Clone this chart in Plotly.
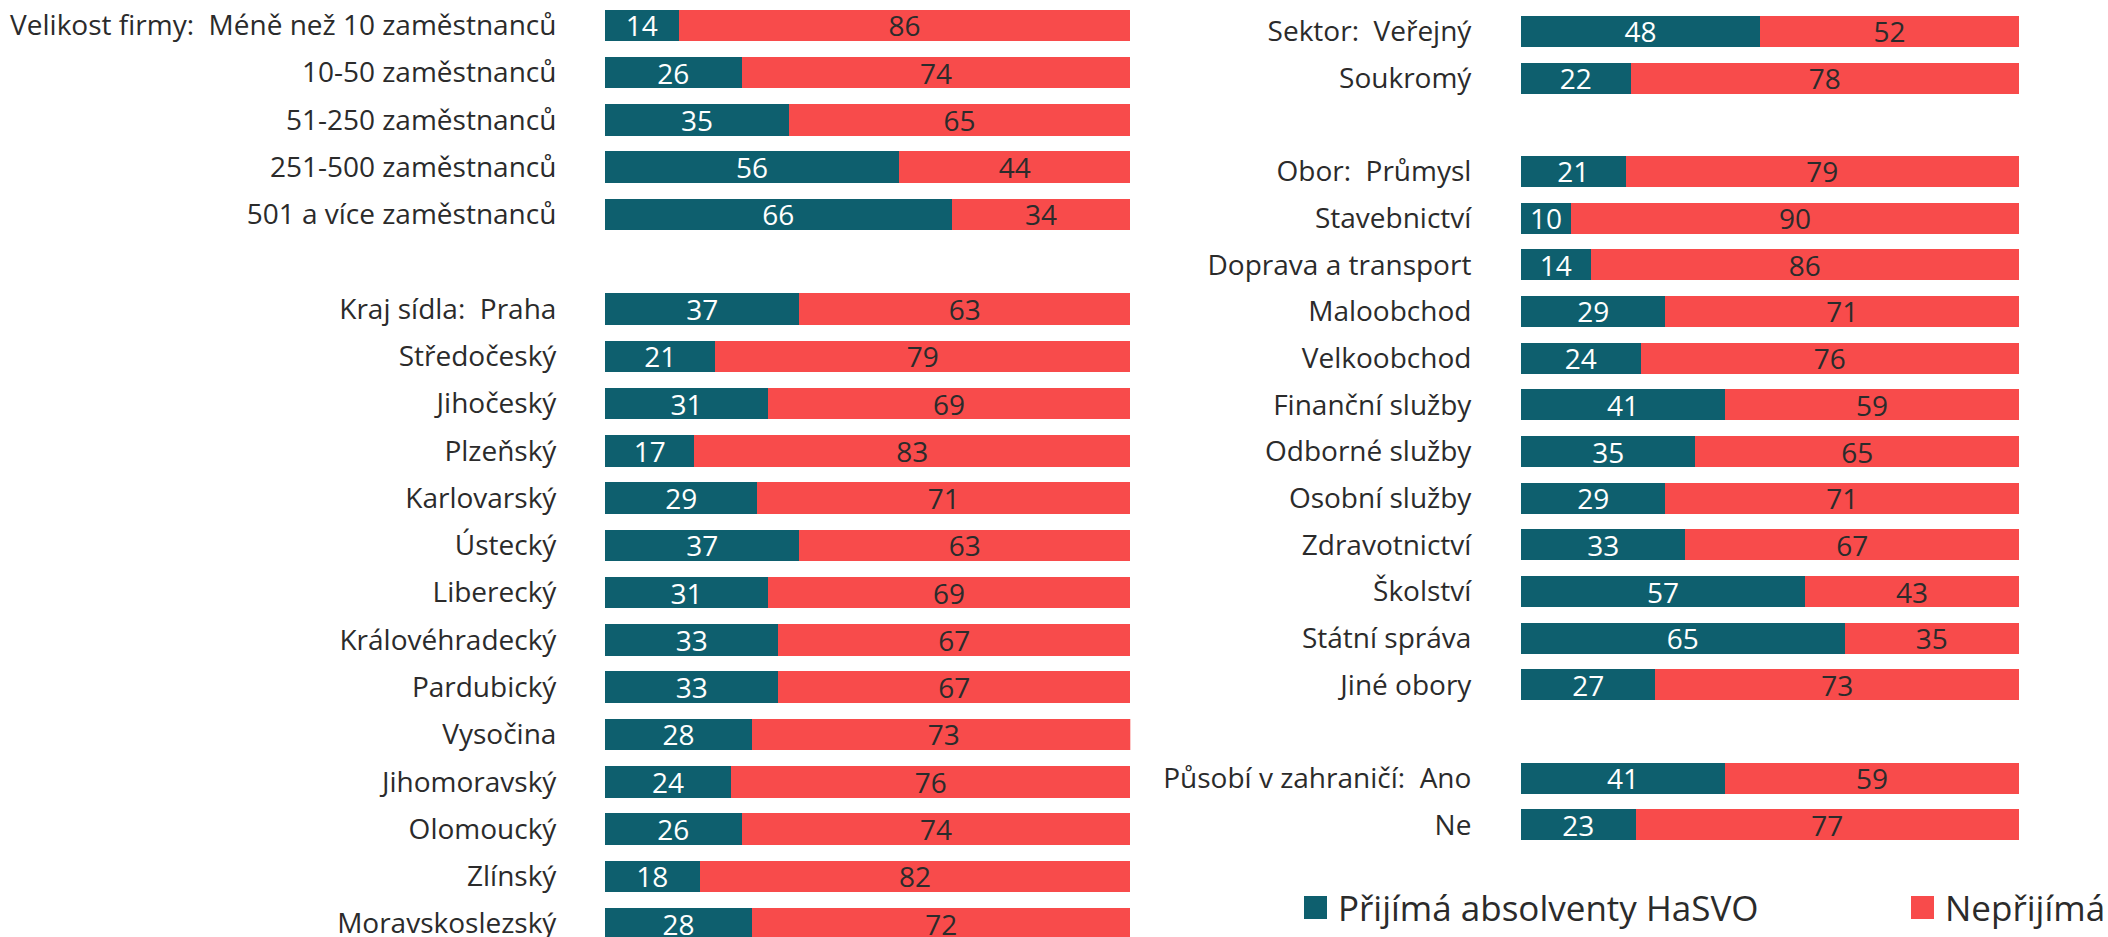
import plotly.graph_objects as go

# ---------------- data ----------------
size_labels = ["Velikost firmy:\u00a0 Méně než 10 zaměstnanců", "10-50 zaměstnanců", "51-250 zaměstnanců",
               "251-500 zaměstnanců", "501 a více zaměstnanců"]
size_yes = [14, 26, 35, 56, 66]
size_no = [86, 74, 65, 44, 34]

region_labels = ["Kraj sídla:\u00a0 Praha", "Středočeský", "Jihočeský", "Plzeňský", "Karlovarský", "Ústecký",
                 "Liberecký", "Královéhradecký", "Pardubický", "Vysočina", "Jihomoravský", "Olomoucký",
                 "Zlínský", "Moravskoslezský"]
region_yes = [37, 21, 31, 17, 29, 37, 31, 33, 33, 28, 24, 26, 18, 28]
region_no = [63, 79, 69, 83, 71, 63, 69, 67, 67, 73, 76, 74, 82, 72]

sector_labels = ["Sektor:\u00a0 Veřejný", "Soukromý"]
sector_yes = [48, 22]
sector_no = [52, 78]

field_labels = ["Obor:\u00a0 Průmysl", "Stavebnictví", "Doprava a transport", "Maloobchod", "Velkoobchod",
                "Finanční služby", "Odborné služby", "Osobní služby", "Zdravotnictví", "Školství",
                "Státní správa", "Jiné obory"]
field_yes = [21, 10, 14, 29, 24, 41, 35, 29, 33, 57, 65, 27]
field_no = [79, 90, 86, 71, 76, 59, 65, 71, 67, 43, 35, 73]

abroad_labels = ["Působí v zahraničí:\u00a0 Ano", "Ne"]
abroad_yes = [41, 23]
abroad_no = [59, 77]

series_names = ["Přijímá absolventy HaSVO", "Nepřijímá absolventy HaSVO"]

# ---------------- style ----------------
W, H = 2108, 937
TEAL = "#0E5F6E"
RED = "#F84B4B"
TXT = "#2B2B2B"
FONT = "Open Sans"
FS_LBL = 28
FS_NUM = 28

left_cats = size_labels + [" "] + region_labels
left_yes = size_yes + [None] + region_yes
left_no = size_no + [None] + region_no

right_cats = sector_labels + [" "] + field_labels + ["  "] + abroad_labels
right_yes = sector_yes + [None] + field_yes + [None] + abroad_yes
right_no = sector_no + [None] + field_no + [None] + abroad_no

fig = go.Figure()

def add_panel(cats, yes, no, xa, ya, bw):
    fig.add_trace(go.Bar(
        y=cats, x=yes, orientation="h", name=series_names[0], xaxis=xa, yaxis=ya,
        marker=dict(color=TEAL, line=dict(width=0)), width=bw,
        text=[("" if v is None else str(v)) for v in yes], textposition="inside",
        insidetextanchor="middle", constraintext="none", textangle=0,
        textfont=dict(color="white", size=FS_NUM, family=FONT), showlegend=False, hoverinfo="skip"))
    fig.add_trace(go.Bar(
        y=cats, x=no, orientation="h", name=series_names[1], xaxis=xa, yaxis=ya,
        marker=dict(color=RED, line=dict(width=0)), width=bw,
        text=[("" if v is None else str(v)) for v in no], textposition="inside",
        insidetextanchor="middle", constraintext="none", textangle=0,
        textfont=dict(color=TXT, size=FS_NUM, family=FONT), showlegend=False, hoverinfo="skip"))

add_panel(left_cats, left_yes, left_no, "x", "y", 0.666)
add_panel(right_cats, right_yes, right_no, "x2", "y2", 0.664)

axis_x = dict(range=[0, 100], showgrid=False, zeroline=False, showticklabels=False, showline=False,
              automargin=False)
fig.update_layout(
    width=W, height=H, barmode="stack",
    margin=dict(l=0, r=0, t=0, b=0, pad=0),
    paper_bgcolor="white", plot_bgcolor="white",
    font=dict(family=FONT, size=FS_LBL, color=TXT),
    xaxis=dict(domain=[605 / W, 1130.3 / W], anchor="y", **axis_x),
    xaxis2=dict(domain=[1521 / W, 2019 / W], anchor="y2", **axis_x),
    yaxis=dict(domain=[0, 1], anchor="x", type="category", categoryarray=left_cats,
               categoryorder="array", range=[19.283, -0.535], showgrid=False, zeroline=False,
               ticks="outside", ticklen=42, tickcolor="rgba(0,0,0,0)", automargin=False,
               tickfont=dict(size=FS_LBL, color=TXT, family=FONT)),
    yaxis2=dict(domain=[0, 1], anchor="x2", type="category", categoryarray=right_cats,
                categoryorder="array", range=[19.40, -0.673], showgrid=False, zeroline=False,
                ticks="outside", ticklen=43, tickcolor="rgba(0,0,0,0)", automargin=False,
                tickfont=dict(size=FS_LBL, color=TXT, family=FONT)),
)

# legend (drawn manually to get large swatches)
def py(px):
    return 1 - px / H

legend_items = [(1304, TEAL, series_names[0]), (1911, RED, series_names[1])]
for x0, col, name in legend_items:
    fig.add_shape(type="rect", xref="paper", yref="paper", x0=x0 / W, x1=(x0 + 23) / W,
                  y0=py(919), y1=py(896), fillcolor=col, line=dict(width=0))
    fig.add_annotation(xref="paper", yref="paper", x=(x0 + 32) / W, y=py(907.5), xanchor="left",
                       yanchor="middle", text=name, showarrow=False,
                       font=dict(size=35, color=TXT, family=FONT))

fig.write_html("out.html", config={"displayModeBar": False},
               post_script="document.body.style.margin='0';document.body.style.overflow='hidden';")
